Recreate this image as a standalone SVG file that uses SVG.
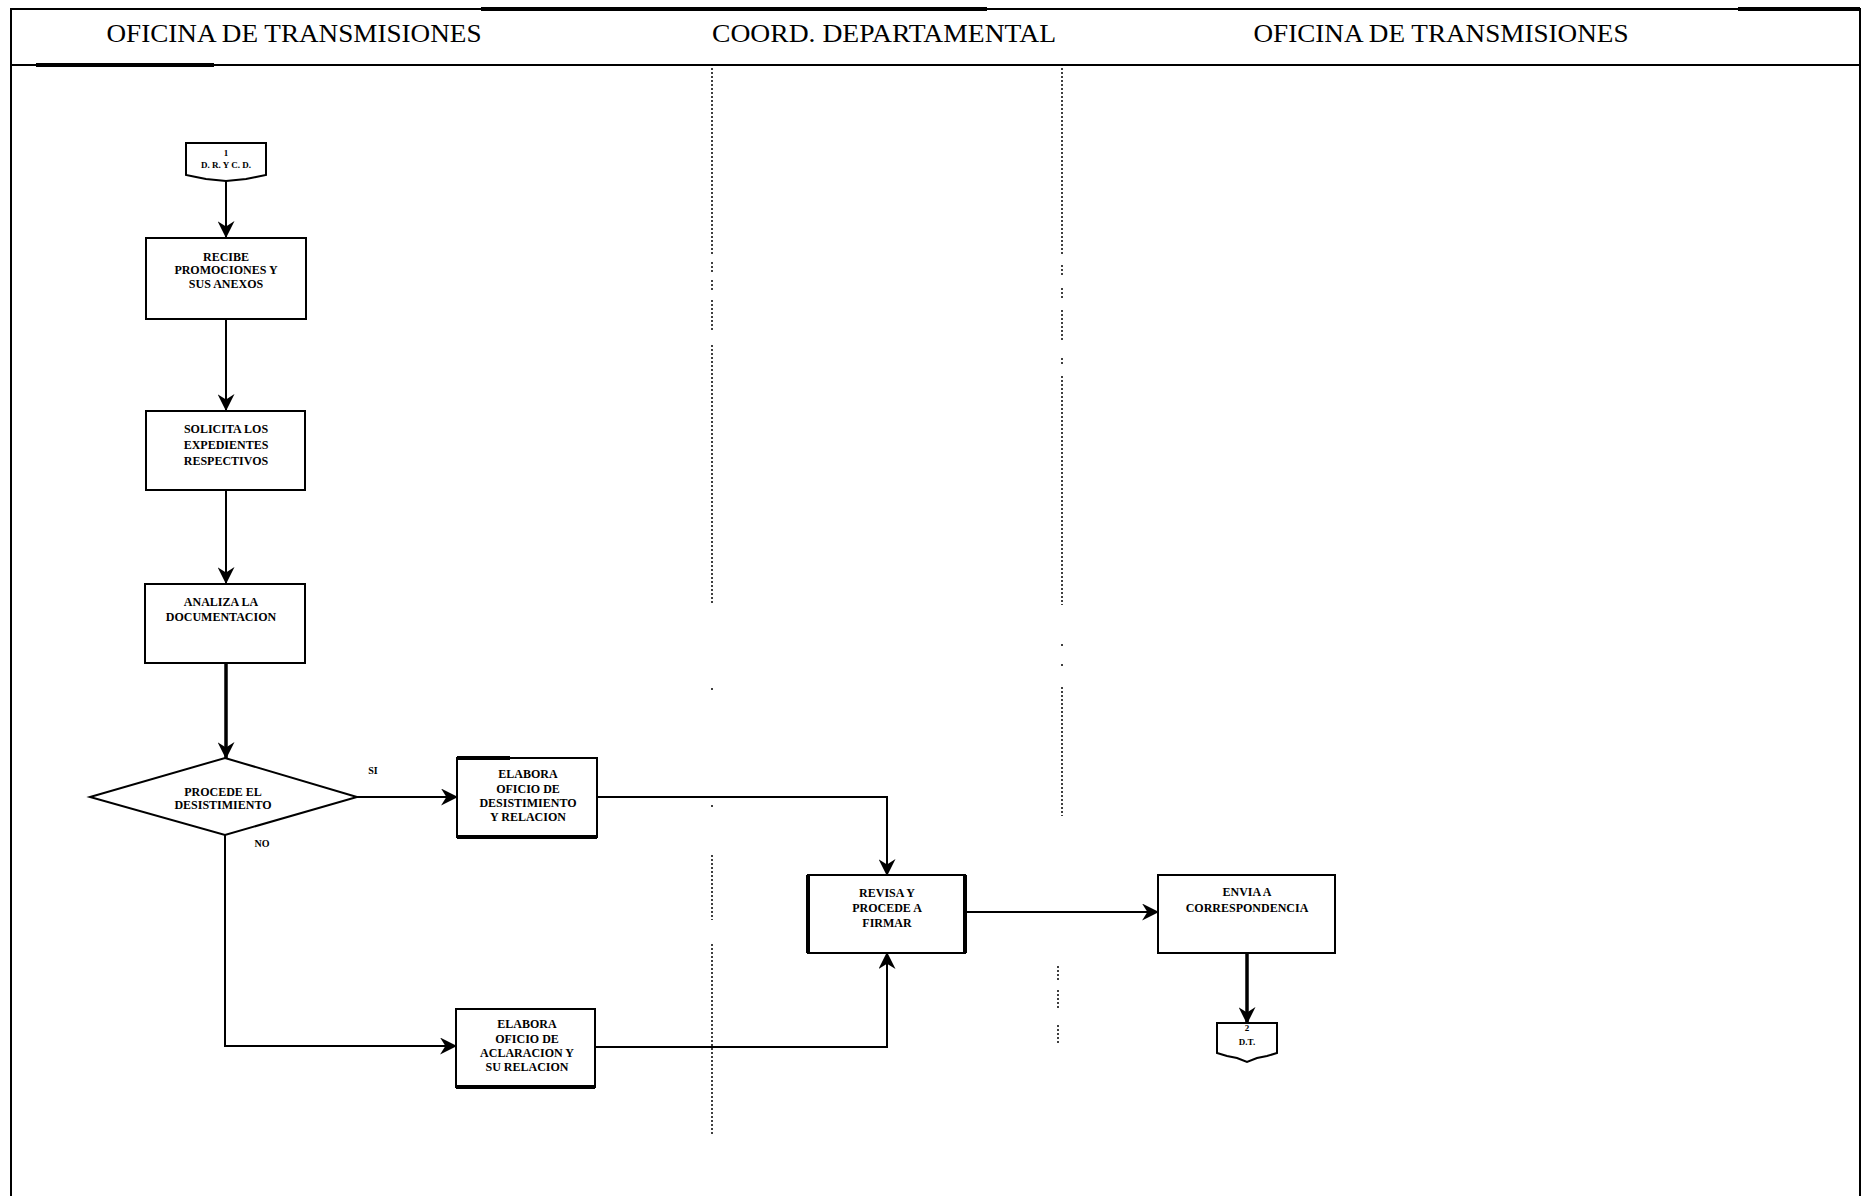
<svg xmlns="http://www.w3.org/2000/svg" width="1864" height="1196" viewBox="0 0 1864 1196">
  <style>
    .frame { fill: none; stroke: #000; stroke-width: 2; }
    .thick { stroke: #000; stroke-width: 4; }
    .lane { stroke: #000; stroke-width: 1.5; stroke-dasharray: 2 2; fill: none; }
    .head { font-family: "Liberation Serif", "Times New Roman", serif; font-size: 26px; fill: #000; text-anchor: middle; }
    .box { fill: #fff; stroke: #000; stroke-width: 2; }
    .lbl { font-family: "Liberation Serif", "Times New Roman", serif; font-size: 12px; font-weight: bold; fill: #000; text-anchor: middle; }
    .small { font-family: "Liberation Serif", "Times New Roman", serif; font-size: 9px; font-weight: bold; fill: #000; text-anchor: middle; }
    .tag { font-family: "Liberation Serif", "Times New Roman", serif; font-size: 10px; font-weight: bold; fill: #000; text-anchor: middle; }
    .flow { fill: none; stroke: #000; stroke-width: 2; }
    .flow.heavy { stroke-width: 3.5; }
  </style>
  <defs>
    <marker id="arrow" viewBox="0 0 16 16" refX="15" refY="8" markerWidth="17" markerHeight="17" markerUnits="userSpaceOnUse" orient="auto">
      <path d="M0,0 L16,8 L0,16 L5,8 Z" fill="#000"/>
    </marker>
  </defs>

  <rect width="1864" height="1196" fill="#fff"/>

  <!-- outer frame and header band -->
  <g id="frame">
    <path class="frame" d="M11,1200 V9 H1860 V1200"/>
    <line class="frame" x1="11" y1="65" x2="1860" y2="65"/>
    <line class="thick" x1="481" y1="9" x2="987" y2="9"/>
    <line class="thick" x1="1738" y1="9" x2="1860" y2="9"/>
    <line class="thick" x1="36" y1="65" x2="214" y2="65"/>
  </g>

  <!-- swimlane titles -->
  <g id="lane-titles">
    <text class="head" x="294" y="42" textLength="375" lengthAdjust="spacingAndGlyphs">OFICINA DE TRANSMISIONES</text>
    <text class="head" x="884" y="42" textLength="344" lengthAdjust="spacingAndGlyphs">COORD. DEPARTAMENTAL</text>
    <text class="head" x="1441" y="42" textLength="375" lengthAdjust="spacingAndGlyphs">OFICINA DE TRANSMISIONES</text>
  </g>

  <!-- dotted lane dividers -->
  <g id="lane-dividers">
    <path class="lane" d="M712,68 V255 M712,262 V272 M712,280 V292 M712,300 V332 M712,345 V605 M712,688 V692 M712,805 V809 M712,855 V920 M712,944 V1134"/>
    <path class="lane" d="M1062,68 V255 M1062,265 V277 M1062,288 V300 M1062,310 V342 M1062,358 V364 M1062,376 V605 M1062,644 V648 M1062,664 V668 M1062,687 V816 M1058,966 V980 M1058,990 V1010 M1058,1025 V1045"/>
  </g>

  <!-- connectors -->
  <g id="connectors">
    <path class="flow" d="M226,181 V237" marker-end="url(#arrow)"/>
    <path class="flow" d="M226,319 V410" marker-end="url(#arrow)"/>
    <path class="flow" d="M226,490 V583" marker-end="url(#arrow)"/>
    <path class="flow heavy" d="M226,663 V758" marker-end="url(#arrow)"/>
    <path class="flow" d="M357,797 H457" marker-end="url(#arrow)"/>
    <path class="flow" d="M597,797 H887 V875" marker-end="url(#arrow)"/>
    <path class="flow" d="M225,835 V1046 H456" marker-end="url(#arrow)"/>
    <path class="flow" d="M595,1047 H887 V953" marker-end="url(#arrow)"/>
    <path class="flow" d="M965,912 H1158" marker-end="url(#arrow)"/>
    <path class="flow heavy" d="M1247,953 V1023" marker-end="url(#arrow)"/>
    <text class="tag" x="373" y="774">SI</text>
    <text class="tag" x="262" y="847">NO</text>
  </g>

  <!-- start off-page connector -->
  <g id="start">
    <path class="box" d="M186,143 H266 V175 L256,177 L246,179 L236,180 L226,181 L216,180 L206,179 L196,177 L186,175 Z"/>
    <text class="small" x="226" y="156">1</text>
    <text class="small" x="226" y="168">D. R. Y C. D.</text>
  </g>

  <g id="recibe">
    <rect class="box" x="146" y="238" width="160" height="81"/>
    <text class="lbl" x="226" y="261">RECIBE</text>
    <text class="lbl" x="226" y="274">PROMOCIONES Y</text>
    <text class="lbl" x="226" y="288">SUS ANEXOS</text>
  </g>

  <g id="solicita">
    <rect class="box" x="146" y="411" width="159" height="79"/>
    <text class="lbl" x="226" y="433">SOLICITA LOS</text>
    <text class="lbl" x="226" y="449">EXPEDIENTES</text>
    <text class="lbl" x="226" y="465">RESPECTIVOS</text>
  </g>

  <g id="analiza">
    <rect class="box" x="145" y="584" width="160" height="79"/>
    <text class="lbl" x="221" y="606">ANALIZA LA</text>
    <text class="lbl" x="221" y="621">DOCUMENTACION</text>
  </g>

  <g id="decision">
    <path class="box" d="M225,758 L357,797 L225,835 L90,797 Z"/>
    <text class="lbl" x="223" y="796">PROCEDE EL</text>
    <text class="lbl" x="223" y="809">DESISTIMIENTO</text>
  </g>

  <g id="oficio-desistimiento">
    <rect class="box" x="457" y="758" width="140" height="79"/>
    <line class="thick" x1="457" y1="758" x2="510" y2="758"/>
    <line class="thick" x1="457" y1="837" x2="597" y2="837"/>
    <text class="lbl" x="528" y="778">ELABORA</text>
    <text class="lbl" x="528" y="793">OFICIO DE</text>
    <text class="lbl" x="528" y="807">DESISTIMIENTO</text>
    <text class="lbl" x="528" y="821">Y RELACION</text>
  </g>

  <g id="oficio-aclaracion">
    <rect class="box" x="456" y="1009" width="139" height="78"/>
    <line class="thick" x1="456" y1="1087" x2="595" y2="1087"/>
    <text class="lbl" x="527" y="1028">ELABORA</text>
    <text class="lbl" x="527" y="1043">OFICIO DE</text>
    <text class="lbl" x="527" y="1057">ACLARACION Y</text>
    <text class="lbl" x="527" y="1071">SU RELACION</text>
  </g>

  <g id="revisa">
    <rect class="box" x="808" y="875" width="157" height="78"/>
    <line class="thick" x1="808" y1="875" x2="808" y2="953"/>
    <line class="thick" x1="965" y1="875" x2="965" y2="953"/>
    <text class="lbl" x="887" y="897">REVISA Y</text>
    <text class="lbl" x="887" y="912">PROCEDE A</text>
    <text class="lbl" x="887" y="927">FIRMAR</text>
  </g>

  <g id="envia">
    <rect class="box" x="1158" y="875" width="177" height="78"/>
    <text class="lbl" x="1247" y="896">ENVIA A</text>
    <text class="lbl" x="1247" y="912">CORRESPONDENCIA</text>
  </g>

  <!-- end off-page connector -->
  <g id="end">
    <path class="box" d="M1217,1023 H1277 V1053 L1267,1056 L1257,1058 L1247,1062 L1237,1058 L1227,1056 L1217,1053 Z"/>
    <text class="small" x="1247" y="1031">2</text>
    <text class="small" x="1247" y="1045">D.T.</text>
  </g>
</svg>
